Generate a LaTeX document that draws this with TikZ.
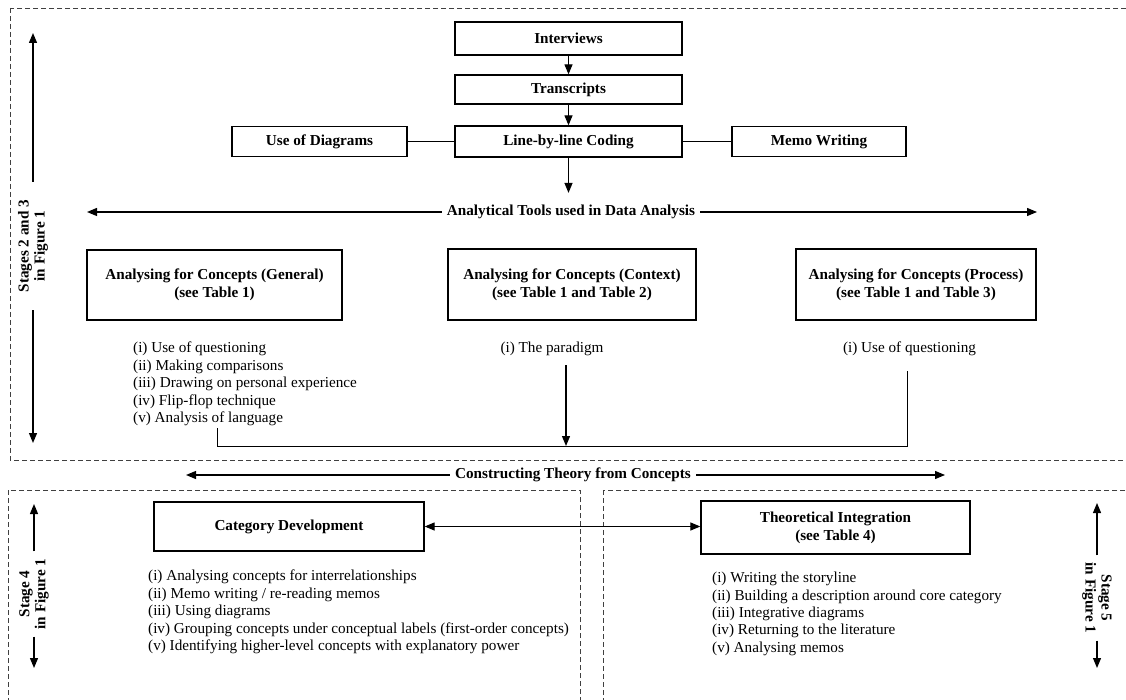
\documentclass[tikz,border=0pt]{standalone}
\usepackage{fontspec}
\setmainfont{Liberation Serif}
\usetikzlibrary{arrows.meta}
\begin{document}
\begin{tikzpicture}[x=1pt,y=-1pt,
  font=\fontsize{15.2}{17.4}\selectfont,
  box/.style={draw, line width=1.3pt, font=\fontsize{15.2}{18}\selectfont\bfseries, align=center, inner sep=0pt},
  lst/.style={align=left, inner sep=0pt, anchor=north west},
  conn/.style={line width=1pt},
  arr/.style={line width=1.2pt, -{Triangle[length=10pt,width=8pt]}},
  darr/.style={line width=1.2pt, {Triangle[length=10pt,width=8pt]}-{Triangle[length=10pt,width=8pt]}},
  frame/.style={line width=0.8pt, dash pattern=on 5pt off 3pt, black!75},
  lbltext/.style={font=\fontsize{15.2}{17}\selectfont\bfseries, inner sep=5pt},
  stage/.style={font=\fontsize{15.2}{16}\selectfont\bfseries, align=center, inner ysep=0pt},
]
\useasboundingbox (0,0) rectangle (1126,700);
\clip (0,0) rectangle (1126,700);

% dashed frames
\draw[frame] (10,8) rectangle (1140,460);
\draw[frame] (8,490) rectangle (580,710);
\draw[frame] (603,490) rectangle (1140,710);

% top flow
\node[box, minimum width=227pt, minimum height=33pt] (interviews) at (568.5,38.5) {Interviews};
\node[box, minimum width=227pt, minimum height=29pt] (transcripts) at (568.5,89.5) {Transcripts};
\node[box, minimum width=227pt, minimum height=31pt] (coding) at (568.5,141.5) {Line-by-line Coding};
\node[box, minimum width=175pt, minimum height=30pt] (diagrams) at (319.5,141.5) {Use of Diagrams};
\node[box, minimum width=174pt, minimum height=30pt] (memo) at (819,141.5) {Memo Writing};

\draw[arr] (interviews) -- (transcripts);
\draw[arr] (transcripts) -- (coding);
\draw[conn] (diagrams) -- (coding);
\draw[conn] (coding) -- (memo);

% analytical tools
\node[lbltext] (tools) at (571,212) {Analytical Tools used in Data Analysis};
\coordinate (toolsL) at (87,212);
\coordinate (toolsR) at (1037,212);
\draw[arr] (tools.west) -- (toolsL);
\draw[arr] (tools.east) -- (toolsR);
\draw[arr, shorten >=7pt] (coding.south) -- (coding.south |- tools.north);

% analysing boxes
\node[box, minimum width=255pt, minimum height=70pt] (general) at (214.5,285) {Analysing for Concepts (General)\\(see Table 1)};
\node[box, minimum width=248pt, minimum height=71pt] (context) at (572,284.5) {Analysing for Concepts (Context)\\(see Table 1 and Table 2)};
\node[box, minimum width=240pt, minimum height=71pt] (process) at (916,284.5) {Analysing for Concepts (Process)\\(see Table 1 and Table 3)};

\node[lst] (genlist) at (133,342) {(i) Use of questioning\\(ii) Making comparisons\\(iii) Drawing on personal experience\\(iv) Flip-flop technique\\(v) Analysis of language};
\node[inner sep=0pt] (paradigm) at (552,349) {(i) The paradigm};
\node[inner sep=0pt] (procq) at (909.5,349) {(i) Use of questioning};

\coordinate (join) at (566,446);
\coordinate (gl) at (217,428);
\coordinate (pr) at (907,371);
\draw[conn] (gl) -- (gl |- join) -- (join -| pr) -- (pr);
\draw[arr, shorten <=9pt] (paradigm.south -| join) -- (join);

% stages 2 and 3
\node[stage, rotate=90, inner xsep=18pt] (s23) at (33,246) {Stages 2 and 3\\in Figure 1};
\coordinate (s23t) at (33,33);
\coordinate (s23b) at (33,443);
\draw[arr] (s23.east) -- (s23t);
\draw[arr] (s23.west) -- (s23b);

% constructing theory
\node[lbltext] (theory) at (573,475) {Constructing Theory from Concepts};
\coordinate (theoryL) at (186,475);
\coordinate (theoryR) at (945,475);
\draw[arr] (theory.west) -- (theoryL);
\draw[arr] (theory.east) -- (theoryR);

% bottom boxes
\node[box, minimum width=270pt, minimum height=49pt] (catdev) at (289,526.5) {Category Development};
\node[box, minimum width=269pt, minimum height=53pt] (theoint) at (835.5,527.5) {Theoretical Integration\\(see Table 4)};
\draw[darr] (catdev.east) -- (catdev.east -| theoint.west);

\node[lst] (catlist) at (148,570) {(i) Analysing concepts for interrelationships\\(ii) Memo writing / re-reading memos\\(iii) Using diagrams\\(iv) Grouping concepts under conceptual labels (first-order concepts)\\(v) Identifying higher-level concepts with explanatory power};
\node[lst] (tilist) at (712,572) {(i) Writing the storyline\\(ii) Building a description around core category\\(iii) Integrative diagrams\\(iv) Returning to the literature\\(v) Analysing memos};

% stage 4
\node[stage, rotate=90, inner xsep=7pt] (s4) at (34,594) {Stage 4\\in Figure 1};
\coordinate (s4t) at (34,504);
\coordinate (s4b) at (34,668);
\draw[arr] (s4.east) -- (s4t);
\draw[arr] (s4.west) -- (s4b);

% stage 5
\node[stage, rotate=-90, inner xsep=7pt] (s5) at (1097,598) {Stage 5\\in Figure 1};
\coordinate (s5t) at (1097,503);
\coordinate (s5b) at (1097,668);
\draw[arr] (s5.west) -- (s5t);
\draw[arr] (s5.east) -- (s5b);
\end{tikzpicture}
\end{document}
